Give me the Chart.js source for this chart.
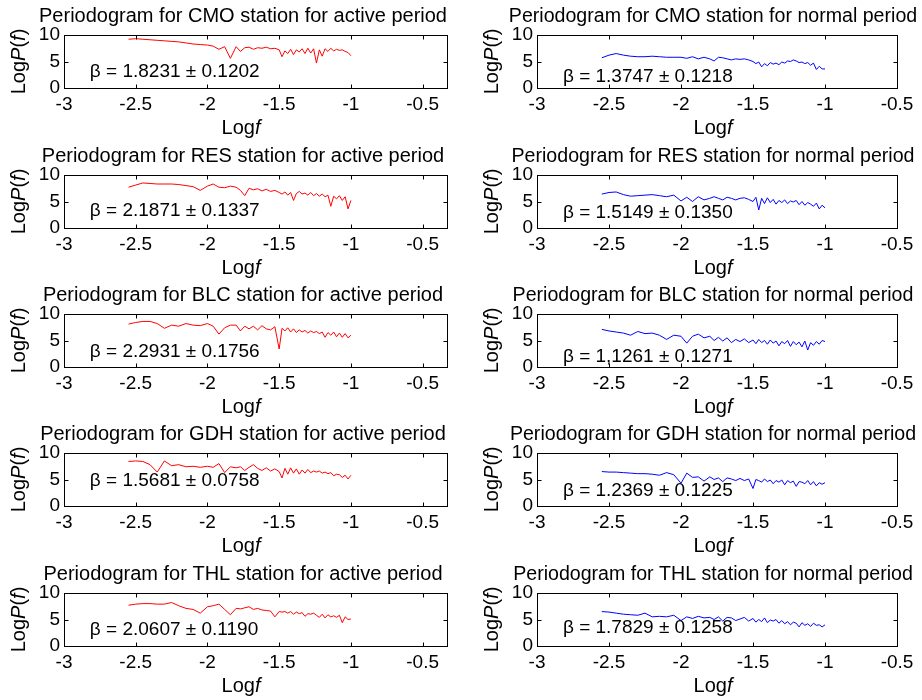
<!DOCTYPE html>
<html>
<head>
<meta charset="utf-8">
<script src="https://cdn.jsdelivr.net/npm/chart.js@4"></script>
<style>
body { margin: 0; background: #fff; }
#wrap { position: relative; width: 922px; height: 700px; overflow: hidden; }
#wrap canvas { position: absolute; }
</style>
</head>
<body>
<div id="wrap"></div>
<script>
// log10 of frequency (shared x values)
var logf = [-2.55, -2.50, -2.45, -2.40, -2.35, -2.30, -2.25, -2.20, -2.15, -2.10, -2.05, -2.00,
  -1.96, -1.92, -1.88, -1.84, -1.80,
  -1.77, -1.74, -1.71, -1.68, -1.65, -1.62, -1.59, -1.56, -1.53,
  -1.50, -1.48, -1.46, -1.44, -1.42, -1.40, -1.38, -1.36, -1.34, -1.32,
  -1.30, -1.28, -1.26, -1.24, -1.22, -1.20, -1.18, -1.16, -1.14, -1.12,
  -1.10, -1.08, -1.06, -1.04, -1.02, -1.00];

// log P(f), active period
var cmoActive = [9.2, 9.3, 9.2, 9.1, 9.0, 8.9, 8.8, 8.7, 8.5, 8.3, 8.2, 8.1,
  7.9, 7.3, 7.8, 5.6, 7.8,
  6.9, 7.6, 7.7, 7.3, 7.6, 7.5, 7.7, 7.4, 7.5,
  7.2, 5.9, 7.0, 6.5, 7.3, 6.3, 7.2, 6.8, 7.4, 6.5,
  7.5, 6.6, 7.4, 4.7, 7.2, 6.0, 7.4, 6.9, 7.5, 7.0,
  7.3, 7.1, 7.2, 6.9, 6.7, 6.1];
var resActive = [7.7, 8.1, 8.5, 8.4, 8.3, 8.3, 8.3, 8.2, 8.0, 7.8, 7.1, 7.9,
  8.3, 7.7, 7.6, 7.9, 7.7,
  7.1, 6.1, 7.5, 7.2, 7.4, 7.0, 7.3, 6.9, 7.1,
  6.7, 6.4, 6.8, 6.2, 6.7, 5.2, 6.5, 6.9, 6.4, 6.6,
  6.2, 6.7, 6.1, 6.5, 6.0, 6.4, 5.9, 6.2, 4.1, 6.0,
  5.5, 6.1, 5.2, 5.9, 3.6, 5.2];
var blcActive = [8.1, 8.4, 8.6, 8.6, 8.2, 7.3, 7.9, 7.7, 8.2, 7.9, 7.8, 8.2,
  7.7, 6.2, 7.4, 7.9, 7.9,
  6.8, 7.7, 7.2, 7.7, 7.0, 7.8, 7.2, 7.0, 7.6,
  3.4, 7.3, 6.8, 7.4, 6.6, 7.2, 6.5, 7.0, 6.6, 6.9,
  6.4, 6.8, 6.5, 6.7, 6.3, 6.6, 5.6, 6.5, 6.0, 6.6,
  5.7, 6.4, 5.6, 6.3, 5.5, 6.0];
var gdhActive = [8.4, 8.5, 8.4, 7.8, 6.4, 8.5, 7.6, 7.8, 7.4, 7.5, 7.3, 7.5,
  7.3, 8.0, 6.3, 7.4, 7.2,
  7.4, 6.7, 7.3, 7.8, 7.1, 6.7, 7.2, 6.6, 7.0,
  6.5, 5.3, 7.1, 6.0, 7.2, 6.2, 7.0, 6.0, 6.8, 6.2,
  6.9, 6.3, 6.6, 6.4, 6.6, 6.2, 6.4, 6.1, 6.3, 5.7,
  6.0, 5.9, 5.4, 5.8, 5.1, 5.8];
var thlActive = [7.7, 7.9, 8.0, 8.0, 7.9, 7.9, 8.2, 7.6, 7.1, 6.9, 6.2, 7.4,
  7.6, 7.9, 6.9, 5.9, 7.1,
  7.0, 7.2, 7.4, 6.9, 7.1, 6.8, 6.7, 6.6, 5.5,
  6.5, 6.4, 6.5, 6.2, 6.5, 6.0, 6.4, 6.1, 6.3, 5.6,
  6.1, 6.0, 6.2, 5.8, 5.4, 6.0, 5.3, 5.9, 5.5, 5.7,
  5.4, 5.8, 4.4, 5.5, 5.0, 5.1];

// log P(f), normal period
var cmoNormal = [5.7, 6.2, 6.5, 6.2, 6.0, 5.9, 5.9, 6.0, 5.9, 5.8, 5.8, 5.8,
  5.6, 5.9, 5.5, 5.8, 5.5,
  5.1, 5.8, 5.7, 5.5, 5.3, 5.5, 5.4, 5.5, 5.3,
  5.0, 4.6, 4.9, 4.0, 4.6, 4.2, 4.8, 4.5, 4.7, 4.4,
  4.9, 4.7, 5.1, 5.0, 5.3, 5.1, 4.8, 4.9, 4.6, 4.8,
  4.3, 4.7, 3.5, 4.1, 3.6, 3.6];
var resNormal = [6.4, 6.7, 6.8, 6.3, 6.0, 6.1, 6.2, 6.3, 6.1, 5.9, 6.2, 5.1,
  5.8, 5.0, 5.9, 5.3, 5.6,
  5.9, 5.6, 5.3, 5.8, 5.6, 5.3, 5.6, 5.7, 5.4,
  5.0, 5.8, 3.4, 5.6, 4.6, 5.7, 4.8, 5.4, 4.5, 5.2,
  4.8, 5.3, 4.6, 5.1, 4.9, 5.2, 4.4, 5.0, 4.3, 4.8,
  4.5, 4.1, 4.7, 3.6, 4.3, 3.8];
var blcNormal = [7.1, 6.8, 6.6, 6.4, 6.0, 6.7, 6.3, 6.4, 6.0, 5.2, 6.0, 5.8,
  4.5, 5.8, 6.2, 5.5, 5.8,
  5.0, 5.6, 4.9, 5.5, 4.6, 5.2, 4.8, 5.3, 4.6,
  5.1, 4.4, 5.2, 4.6, 5.0, 4.3, 5.1, 4.5, 4.9, 4.0,
  4.8, 4.4, 5.0, 3.9, 4.8, 4.2, 4.7, 3.8, 4.9, 3.2,
  4.6, 4.1, 4.8, 4.3, 5.0, 4.8];
var gdhNormal = [6.5, 6.4, 6.4, 6.3, 6.2, 6.1, 6.1, 6.0, 5.8, 6.3, 5.9, 4.3,
  6.2, 5.4, 5.5, 4.7, 5.5,
  5.0, 5.3, 4.6, 5.3, 5.1, 4.8, 5.2, 4.8, 5.1,
  3.3, 5.0, 4.8, 4.5, 5.1, 4.6, 4.9, 4.2, 4.8, 4.5,
  4.9, 4.0, 4.8, 4.4, 4.7, 3.7, 4.6, 4.5, 4.2, 4.8,
  4.0, 4.6, 3.8, 4.4, 4.1, 4.4];
var thlNormal = [6.5, 6.4, 6.2, 6.0, 5.9, 5.8, 6.2, 5.5, 5.6, 5.5, 5.8, 4.8,
  5.5, 5.2, 5.6, 5.3, 5.4,
  5.0, 5.5, 4.7, 5.4, 5.3, 4.8, 5.1, 5.4, 4.7,
  5.2, 4.5, 5.0, 4.6, 5.3, 4.4, 4.9, 4.7, 5.0, 4.3,
  4.8, 4.2, 4.6, 4.0, 4.5, 4.3, 3.6, 4.4, 3.9, 4.2,
  3.7, 4.3, 3.9, 4.0, 3.6, 4.0];

var stations = ['CMO', 'RES', 'BLC', 'GDH', 'THL'];
var activeBeta = ['1.8231 ± 0.1202', '2.1871 ± 0.1337', '2.2931 ± 0.1756', '1.5681 ± 0.0758', '2.0607 ± 0.1190'];
var normalBeta = ['1.3747 ± 0.1218', '1.5149 ± 0.1350', '1,1261 ± 0.1271', '1.2369 ± 0.1225', '1.7829 ± 0.1258'];
var xTicks = [-3, -2.5, -2, -1.5, -1, -0.5];
var yTicks = [0, 5, 10];

var activeSeries = [cmoActive, resActive, blcActive, gdhActive, thlActive];
var normalSeries = [cmoNormal, resNormal, blcNormal, gdhNormal, thlNormal];

// layout (pixels)
var FAM = '"Liberation Sans", Arial, sans-serif';
var rowTop = [0, 140, 279, 418, 558];
var colLeft = [0, 460];
var colWidth = [460, 462];
var areaLeft = [64, 77];
var areaRight = [447, 437];
var xMax = [-0.33, -0.5];
var titleX = [243, 253];
var titleSize = [20, 19.6];
var yTitleX = [19, 32];
var xTitleX = [241, 253];
var betaPos = [[3.0, 2.1], [3.2, 2.8], [2.8, 1.9], [4.7, 2.8], [3.0, 3.4]];

function rich(ctx, parts, x, y, size, align) {
  var w = 0;
  parts.forEach(function(p) {
    ctx.font = (p[1] ? 'italic ' : '') + size + 'px ' + FAM;
    w += ctx.measureText(p[0]).width;
  });
  var cx = align === 'center' ? x - w / 2 : x;
  ctx.textAlign = 'left';
  parts.forEach(function(p) {
    ctx.font = (p[1] ? 'italic ' : '') + size + 'px ' + FAM;
    ctx.fillText(p[0], cx, y);
    cx += ctx.measureText(p[0]).width;
  });
}

function makeFrame(r, c) {
  return {
    id: 'frame' + r + c,
    afterDraw: function(chart) {
      var ctx = chart.ctx, a = chart.chartArea;
      var sx = chart.scales.x, sy = chart.scales.y;
      var L = Math.round(a.left) + 0.5, R = Math.round(a.right) + 0.5;
      var T = Math.round(a.top) + 0.5, B = Math.round(a.bottom) + 0.5;
      ctx.save();
      ctx.strokeStyle = '#000';
      ctx.lineWidth = 1;
      ctx.strokeRect(L, T, R - L, B - T);
      ctx.beginPath();
      xTicks.forEach(function(v) {
        var px = Math.round(sx.getPixelForValue(v)) + 0.5;
        ctx.moveTo(px, B); ctx.lineTo(px, B - 4);
        ctx.moveTo(px, T); ctx.lineTo(px, T + 4);
      });
      yTicks.forEach(function(v) {
        var py = Math.round(sy.getPixelForValue(v)) + 0.5;
        ctx.moveTo(L, py); ctx.lineTo(L + 4, py);
        ctx.moveTo(R, py); ctx.lineTo(R - 4, py);
      });
      ctx.stroke();

      ctx.fillStyle = '#000';
      ctx.textBaseline = 'alphabetic';
      var title = 'Periodogram for ' + stations[r] + ' station for ' + (c === 0 ? 'active' : 'normal') + ' period';
      rich(ctx, [[title, false]], titleX[c], 22, titleSize[c], 'center');
      rich(ctx, [['Log', false], ['f', true]], xTitleX[c], a.bottom + 46, 20, 'center');

      ctx.save();
      ctx.translate(yTitleX[c], (a.top + a.bottom) / 2);
      ctx.rotate(-Math.PI / 2);
      ctx.textBaseline = 'middle';
      rich(ctx, [['Log', false], ['P', true], ['(', false], ['f', true], [')', false]], 0, 0, 20, 'center');
      ctx.restore();

      ctx.textBaseline = 'middle';
      var b = c === 0 ? activeBeta[r] : normalBeta[r];
      rich(ctx, [['β = ' + b, false]], sx.getPixelForValue(-2.82), sy.getPixelForValue(betaPos[r][c]), 19, 'left');
      ctx.restore();
    }
  };
}

var wrap = document.getElementById('wrap');
for (var r = 0; r < 5; r++) {
  for (var c = 0; c < 2; c++) {
    (function(r, c) {
      var H = r === 4 ? 142 : 140;
      var W = colWidth[c];
      var cv = document.createElement('canvas');
      cv.width = W; cv.height = H;
      cv.style.left = colLeft[c] + 'px';
      cv.style.top = rowTop[r] + 'px';
      cv.style.width = W + 'px';
      cv.style.height = H + 'px';
      wrap.appendChild(cv);
      var ys = c === 0 ? activeSeries[r] : normalSeries[r];
      var pts = logf.map(function(x, i) { return { x: x, y: ys[i] }; });
      new Chart(cv.getContext('2d'), {
        type: 'line',
        data: {
          datasets: [{
            data: pts,
            borderColor: c === 0 ? '#ff0000' : '#0000ff',
            borderWidth: 1,
            pointRadius: 0,
            tension: 0,
            fill: false
          }]
        },
        options: {
          responsive: false,
          animation: false,
          devicePixelRatio: 1,
          layout: { padding: { top: 35, left: 0, right: W - areaRight[c], bottom: 0 } },
          plugins: { legend: { display: false }, tooltip: { enabled: false }, title: { display: false } },
          scales: {
            x: {
              type: 'linear', min: -3, max: xMax[c],
              afterBuildTicks: function(s) { s.ticks = xTicks.map(function(v) { return { value: v }; }); },
              afterFit: function(s) { s.height = H - 35 - 53; },
              grid: { display: false, drawTicks: false, tickLength: 0 }, border: { display: false },
              ticks: { color: '#000', font: { family: FAM, size: 19 }, padding: 5, maxRotation: 0, autoSkip: false,
                callback: function(v) { return String(v); } }
            },
            y: {
              min: 0, max: 10,
              afterBuildTicks: function(s) { s.ticks = yTicks.map(function(v) { return { value: v }; }); },
              afterFit: function(s) { s.width = areaLeft[c]; },
              grid: { display: false, drawTicks: false, tickLength: 0 }, border: { display: false },
              ticks: { color: '#000', font: { family: FAM, size: 19 }, padding: 4,
                callback: function(v) { return String(v); } }
            }
          }
        },
        plugins: [makeFrame(r, c)]
      });
    })(r, c);
  }
}
</script>
</body>
</html>
